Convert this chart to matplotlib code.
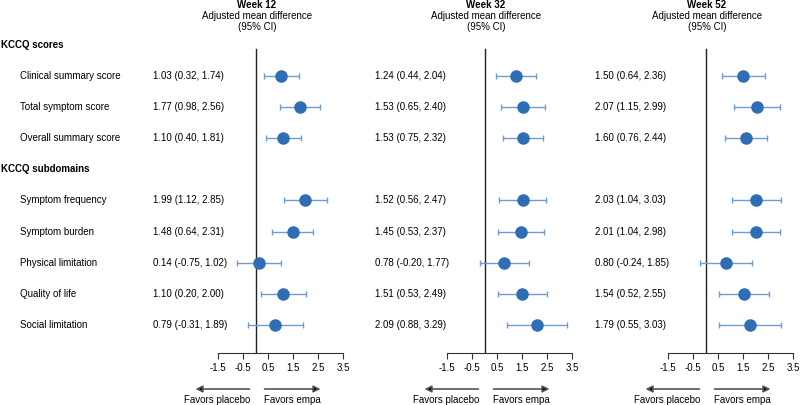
import matplotlib.pyplot as plt
from matplotlib import transforms

plt.rcParams['font.family'] = ['Liberation Sans', 'DejaVu Sans']

# data
labels = ["Clinical summary score", "Total symptom score", "Overall summary score",
          "Symptom frequency", "Symptom burden", "Physical limitation",
          "Quality of life", "Social limitation"]
rows = [1, 2, 3, 5, 6, 7, 8, 9]
headers = ["KCCQ scores", "KCCQ subdomains"]
header_rows = [0, 4]
weeks = ["Week 12", "Week 32", "Week 52"]

est_w12 = [1.03, 1.77, 1.10, 1.99, 1.48, 0.14, 1.10, 0.79]
lo_w12 = [0.32, 0.98, 0.40, 1.12, 0.64, -0.75, 0.20, -0.31]
hi_w12 = [1.74, 2.56, 1.81, 2.85, 2.31, 1.02, 2.00, 1.89]

est_w32 = [1.24, 1.53, 1.53, 1.52, 1.45, 0.78, 1.51, 2.09]
lo_w32 = [0.44, 0.65, 0.75, 0.56, 0.53, -0.20, 0.53, 0.88]
hi_w32 = [2.04, 2.40, 2.32, 2.47, 2.37, 1.77, 2.49, 3.29]

est_w52 = [1.50, 2.07, 1.60, 2.03, 2.01, 0.80, 1.54, 1.79]
lo_w52 = [0.64, 1.15, 0.76, 1.04, 1.04, -0.24, 0.52, 0.55]
hi_w52 = [2.36, 2.99, 2.44, 3.03, 2.98, 1.85, 2.55, 3.03]

ticks = [-1.5, -0.5, 0.5, 1.5, 2.5, 3.5]

W, H = 800, 405
fig = plt.figure(figsize=(8, 4.05), dpi=100)

panels = [(est_w12, lo_w12, hi_w12), (est_w32, lo_w32, hi_w32), (est_w52, lo_w52, hi_w52)]
ax_left = [218, 447, 668]
txt_left = [153, 375, 595]

marker_c = "#2f6db5"
bar_c = "#6c9bd6"
fs = 7

for k, (est, lo, hi) in enumerate(panels):
    ax = fig.add_axes([ax_left[k] / W, 52 / H, 125 / W, 309 / H])
    ax.set_xlim(-1.5, 3.5)
    ax.set_ylim(9.9, -0.02)
    for s in ["top", "right", "left"]:
        ax.spines[s].set_visible(False)
    ax.spines["bottom"].set_color("#333333")
    ax.set_yticks([])
    ax.set_xticks(ticks)
    ax.set_xticklabels([f"{t:g}" for t in ticks], fontsize=fs)
    ax.tick_params(axis="x", length=4, color="#333333", pad=3)
    ax.plot([0, 0], [9.9, 0.15], color="#222222", lw=1)
    err = [[e - l for e, l in zip(est, lo)], [h - e for e, h in zip(est, hi)]]
    ax.errorbar(est, rows, xerr=err, fmt="none", ecolor=bar_c, elinewidth=1,
                capsize=2.5, capthick=1)
    ax.plot(est, rows, "o", color=marker_c, ms=8, ls="none")

    tr = transforms.blended_transform_factory(fig.transFigure, ax.transData)
    for r, e, l, h in zip(rows, est, lo, hi):
        fig.text(txt_left[k] / W, r, f"{e:.2f} ({l:.2f}, {h:.2f})", transform=tr,
                 fontsize=fs, va="center", ha="left")

    cx = (ax_left[k] + 39) / W
    fig.text(cx, 1 - 5 / H, weeks[k], fontsize=fs, fontweight="bold", ha="center", va="center")
    fig.text(cx, 1 - 16 / H, "Adjusted mean difference", fontsize=fs, ha="center", va="center")
    fig.text(cx, 1 - 27 / H, "(95% CI)", fontsize=fs, ha="center", va="center")

    # favors arrows
    ya = 1 - 389 / H
    x0 = ax_left[k] + 37.5
    ax.annotate("", xy=((x0 + 65) / W, ya), xytext=((x0 + 9) / W, ya),
                xycoords="figure fraction", textcoords="figure fraction",
                arrowprops=dict(arrowstyle="-|>", color="#555555", lw=1.2,
                                mutation_scale=10, shrinkA=0, shrinkB=0, fc="black"))
    ax.annotate("", xy=((x0 - 60) / W, ya), xytext=((x0 - 6) / W, ya),
                xycoords="figure fraction", textcoords="figure fraction",
                arrowprops=dict(arrowstyle="-|>", color="#555555", lw=1.2,
                                mutation_scale=10, shrinkA=0, shrinkB=0, fc="black"))
    fig.text((x0 - 38) / W, 1 - 400 / H, "Favors placebo", fontsize=fs, ha="center", va="center")
    fig.text((x0 + 36.5) / W, 1 - 400 / H, "Favors empa", fontsize=fs, ha="center", va="center")

ax0 = fig.axes[0]
tr0 = transforms.blended_transform_factory(fig.transFigure, ax0.transData)
for h, r in zip(headers, header_rows):
    fig.text(1 / W, r, h, transform=tr0, fontsize=fs, fontweight="bold", va="center")
for lab, r in zip(labels, rows):
    fig.text(20 / W, r, lab, transform=tr0, fontsize=fs, va="center")

fig.savefig("out.png", dpi=100)
